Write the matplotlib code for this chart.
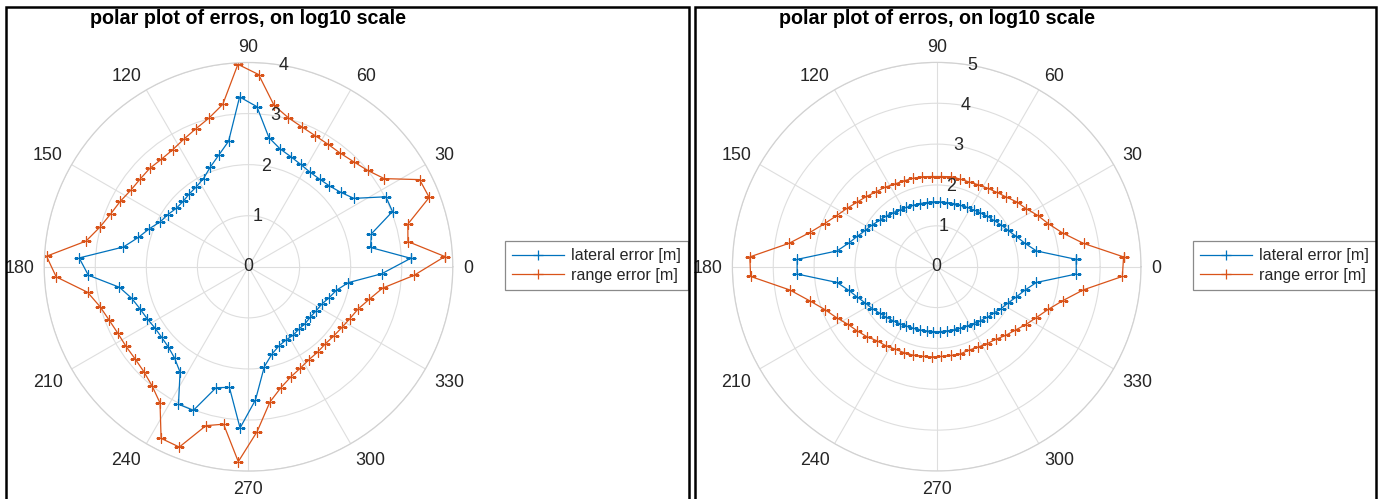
import numpy as np
import matplotlib
matplotlib.use("Agg")
import matplotlib.pyplot as plt
from matplotlib.patches import Rectangle

plt.rcParams['font.family'] = ['Liberation Sans', 'DejaVu Sans']

# sample angles [deg] and log10 of the errors
theta_deg = [3, 9, 15, 21, 27, 33, 39, 45, 51, 57, 63, 69, 75, 81, 87,
             93, 99, 105, 111, 117, 123, 129, 135, 141, 147, 153, 159, 165, 171, 177,
             183, 189, 195, 201, 207, 213, 219, 225, 231, 237, 243, 249, 255, 261, 267,
             273, 279, 285, 291, 297, 303, 309, 315, 321, 327, 333, 339, 345, 351, 357]

lateral_left = [3.18, 2.42, 2.49, 3.02, 3.02, 2.46, 2.32, 2.24, 2.21, 2.21, 2.25, 2.31, 2.39, 2.56, 3.14,
                3.33, 2.49, 2.26, 2.09, 1.94, 1.87, 1.84, 1.81, 1.82, 1.88, 1.94, 2.08, 2.23, 2.48, 3.32,
                3.14, 2.56, 2.37, 2.28, 2.23, 2.19, 2.19, 2.22, 2.30, 2.46, 3.02, 3.01, 2.45, 2.39, 3.16,
                2.61, 1.98, 1.77, 1.66, 1.61, 1.60, 1.57, 1.57, 1.56, 1.58, 1.61, 1.69, 1.78, 1.98, 2.61]
range_left = [3.85, 3.16, 3.23, 3.79, 3.76, 3.17, 3.00, 2.91, 2.86, 2.86, 2.88, 2.93, 3.02, 3.20, 3.77,
              3.97, 3.22, 3.01, 2.89, 2.80, 2.73, 2.71, 2.73, 2.73, 2.75, 2.82, 2.89, 3.01, 3.22, 3.96,
              3.77, 3.19, 3.01, 2.92, 2.87, 2.86, 2.86, 2.90, 3.00, 3.18, 3.77, 3.78, 3.22, 3.12, 3.82,
              3.23, 2.68, 2.45, 2.31, 2.23, 2.17, 2.15, 2.13, 2.15, 2.18, 2.23, 2.30, 2.45, 2.66, 3.24]

lateral_right = [3.42, 2.47, 2.23, 2.08, 1.96, 1.88, 1.80, 1.75, 1.70, 1.66, 1.63, 1.61, 1.60, 1.59, 1.59,
                 1.59, 1.59, 1.60, 1.61, 1.63, 1.66, 1.70, 1.75, 1.80, 1.88, 1.96, 2.08, 2.23, 2.47, 3.42,
                 3.42, 2.47, 2.23, 2.08, 1.96, 1.88, 1.80, 1.75, 1.70, 1.66, 1.63, 1.61, 1.60, 1.59, 1.59,
                 1.59, 1.59, 1.60, 1.61, 1.63, 1.66, 1.70, 1.75, 1.80, 1.88, 1.96, 2.08, 2.23, 2.47, 3.42]
range_right = [4.58, 3.64, 3.19, 2.93, 2.77, 2.61, 2.52, 2.41, 2.34, 2.29, 2.25, 2.22, 2.22, 2.23, 2.21,
               2.21, 2.23, 2.24, 2.25, 2.27, 2.32, 2.36, 2.43, 2.51, 2.62, 2.75, 2.94, 3.22, 3.66, 4.58,
               4.56, 3.64, 3.22, 2.93, 2.75, 2.59, 2.50, 2.42, 2.33, 2.30, 2.26, 2.25, 2.24, 2.22, 2.21,
               2.20, 2.20, 2.21, 2.19, 2.21, 2.25, 2.29, 2.38, 2.47, 2.60, 2.74, 2.92, 3.20, 3.63, 4.55]

theta_ticks = [0, 30, 60, 90, 120, 150, 180, 210, 240, 270, 300, 330]
title = "polar plot of erros, on log10 scale"
legend_labels = ["lateral error [m]", "range error [m]"]

W, H = 1383, 499
R_PX = 204.3
BLUE = '#0072BD'
ORANGE = '#D95319'
TXT = '#262626'

fig = plt.figure(figsize=(W / 100, H / 100), dpi=100)


def polar_panel(cx, cy, rmax, lateral, rng, leg_x, leg_y):
    ax = fig.add_axes([(cx - R_PX) / W, 1 - (cy + R_PX) / H, 2 * R_PX / W, 2 * R_PX / H],
                      projection='polar')
    th = np.deg2rad(theta_deg + theta_deg[:1])
    ax.plot(th, lateral + lateral[:1], color=BLUE, lw=0.9, marker='+', ms=6.5, mew=0.9,
            label=legend_labels[0])
    ax.plot(th, rng + rng[:1], color=ORANGE, lw=0.9, marker='+', ms=6.5, mew=0.9,
            label=legend_labels[1])

    ax.set_ylim(0, rmax)
    ax.set_yticks(range(rmax + 1))
    ax.set_xticks(np.deg2rad(theta_ticks))
    ax.tick_params(axis='x', labelbottom=False, length=0)
    ax.tick_params(axis='y', labelleft=False, length=0)
    ax.grid(True, color='#dedede', lw=0.8)
    ax.spines['polar'].set_color('#d2d2d2')
    ax.spines['polar'].set_linewidth(0.9)

    # theta labels outside the circle, r labels along the 80 deg spoke
    gap = 10 / R_PX * rmax
    for a in theta_ticks:
        c, s = np.cos(np.deg2rad(a)), np.sin(np.deg2rad(a))
        ha = 'left' if c > 0.1 else ('right' if c < -0.1 else 'center')
        va = 'baseline' if s > 0.1 else ('top' if s < -0.1 else 'center_baseline')
        ax.text(np.deg2rad(a), rmax + gap, str(a), ha=ha, va=va, fontsize=12.9,
                color=TXT, clip_on=False)
    for r in range(rmax + 1):
        ax.text(np.deg2rad(80), r, str(r), ha='center', va='center', fontsize=12.9,
                color=TXT)

    fig.text(cx / W, 1 - 19 / H, title, ha='center', va='center', fontsize=14.2,
             fontweight='bold', color='black')

    leg = ax.legend(loc='upper left', bbox_to_anchor=(leg_x / W, 1 - leg_y / H),
                    bbox_transform=fig.transFigure, borderaxespad=0, fontsize=11.6,
                    fancybox=False, framealpha=1, edgecolor='#8a8a8a',
                    handlelength=3.2, handletextpad=0.45, borderpad=0.45,
                    labelspacing=0.3)
    leg.get_frame().set_linewidth(0.9)
    for t in leg.get_texts():
        t.set_color(TXT)
    return ax


polar_panel(248.5, 266.8, 4, lateral_left, range_left, 505, 241)
polar_panel(936.7, 266.7, 5, lateral_right, range_right, 1193, 241)

# black frames of the two screenshots
for x0, x1 in [(6, 689), (695, 1376)]:
    fig.add_artist(Rectangle((x0 / W, -0.1), (x1 - x0) / W, 1.1 - 7 / H, fill=False,
                             edgecolor='black', lw=1.8, transform=fig.transFigure,
                             clip_on=False))

fig.savefig("out.png", dpi=100)
